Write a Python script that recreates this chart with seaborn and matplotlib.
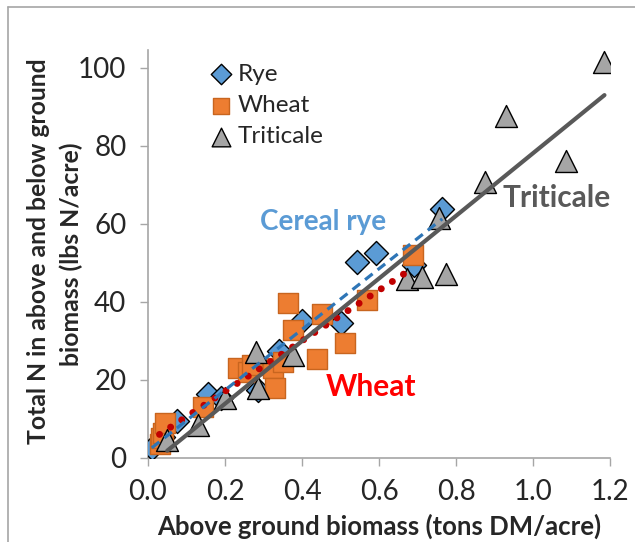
"""Total N vs above ground biomass for three cereal cover crops."""

import matplotlib.pyplot as plt
import pandas as pd
import seaborn as sns
from matplotlib.lines import Line2D

# values
rye_biomass = [0.01, 0.04, 0.075, 0.155, 0.19, 0.285, 0.34, 0.40, 0.50, 0.542, 0.592, 0.69, 0.764]
rye_n = [2.5, 5.5, 9.5, 16.5, 15.5, 17.5, 27.5, 35.0, 34.7, 50.3, 52.6, 49.5, 63.8]

wheat_biomass = [0.03, 0.035, 0.04, 0.045, 0.143, 0.235, 0.26, 0.27, 0.325, 0.33, 0.35,
                 0.364, 0.377, 0.44, 0.452, 0.512, 0.569, 0.689]
wheat_n = [3.5, 5.0, 6.5, 9.0, 13.0, 23.0, 22.0, 23.8, 23.0, 18.0, 24.6,
           39.7, 32.8, 25.3, 37.0, 29.5, 40.5, 52.0]

triticale_biomass = [0.05, 0.13, 0.20, 0.28, 0.285, 0.377, 0.673, 0.712, 0.774, 0.756,
                     0.875, 0.93, 1.086, 1.185]
triticale_n = [4.5, 8.5, 15.5, 27.2, 18.0, 26.5, 46.0, 46.5, 47.2, 61.5,
               70.8, 87.7, 76.0, 101.5]

x_ticks = [0.0, 0.2, 0.4, 0.6, 0.8, 1.0, 1.2]
y_ticks = [0, 20, 40, 60, 80, 100]


def main() -> None:
    sns.set_style("white")
    plt.rcParams["font.family"] = ["Lato", "DejaVu Sans"]

    df = pd.concat(
        [
            pd.DataFrame({"biomass": rye_biomass, "n": rye_n, "crop": "Rye"}),
            pd.DataFrame({"biomass": wheat_biomass, "n": wheat_n, "crop": "Wheat"}),
            pd.DataFrame({"biomass": triticale_biomass, "n": triticale_n, "crop": "Triticale"}),
        ],
        ignore_index=True,
    )

    fig = plt.figure(figsize=(6.35, 5.42), dpi=100)
    ax = fig.add_axes([0.233, 0.155, 0.728, 0.753])

    styles = {
        "Rye": dict(marker="D", color="#5B9BD5", edgecolor="black", s=150),
        "Wheat": dict(marker="s", color="#ED7D31", edgecolor="#C8651F", s=190),
        "Triticale": dict(marker="^", color="#A5A5A5", edgecolor="black", s=250),
    }
    for crop, st in styles.items():
        sub = df[df["crop"] == crop]
        sns.scatterplot(
            data=sub, x="biomass", y="n", ax=ax, label=crop,
            marker=st["marker"], color=st["color"], edgecolor=st["edgecolor"],
            s=st["s"], linewidth=1.0, zorder=3,
        )

    # linear trendlines
    sns.regplot(
        data=df[df["crop"] == "Wheat"], x="biomass", y="n", ax=ax, scatter=False, ci=None,
        line_kws=dict(color="#C00000", lw=5, linestyle=(0, (0.01, 1.9)),
                      dash_capstyle="round", zorder=4),
    )
    sns.regplot(
        data=df[df["crop"] == "Rye"], x="biomass", y="n", ax=ax, scatter=False, ci=None,
        line_kws=dict(color="#2E75B6", lw=2.3, linestyle=(0, (3, 2)), zorder=4),
    )
    sns.regplot(
        data=df[df["crop"] == "Triticale"], x="biomass", y="n", ax=ax, scatter=False, ci=None,
        line_kws=dict(color="#595959", lw=3.0, zorder=5),
    )

    ax.set_xlim(0, 1.2)
    ax.set_ylim(0, 104.6)
    ax.set_xticks(x_ticks)
    ax.set_xticklabels([f"{t:.1f}" for t in x_ticks])
    ax.set_yticks(y_ticks)
    ax.tick_params(axis="both", labelsize=20, length=6, width=1, color="#A6A6A6",
                   direction="out", bottom=True, left=True)
    ax.tick_params(axis="x", pad=9)
    ax.tick_params(axis="y", pad=9.5)
    for side in ["top", "right"]:
        ax.spines[side].set_visible(False)
    for side in ["left", "bottom"]:
        ax.spines[side].set_color("#A6A6A6")
        ax.spines[side].set_linewidth(1.2)

    ax.set_xlabel("Above ground biomass (tons DM/acre)", fontsize=18.5, fontweight="bold")
    ax.xaxis.set_label_coords(0.5, -0.168)
    ax.xaxis.label.set_va("center")

    # y label as two centred lines
    ax.set_ylabel("")
    fig.text(0.060, 0.537, "Total N in above and below ground", rotation=90,
             fontsize=17.8, fontweight="bold", ha="center", va="center")
    fig.text(0.113, 0.530, "biomass (lbs N/acre)", rotation=90,
             fontsize=17.8, fontweight="bold", ha="center", va="center")

    ax.text(0.455, 60.5, "Cereal rye", color="#5B9BD5", fontsize=20, fontweight="bold",
            ha="center", va="center")
    ax.text(0.579, 18.2, "Wheat", color="#FF0000", fontsize=21.5, fontweight="bold",
            ha="center", va="center")
    ax.text(1.062, 66.7, "Triticale", color="#595959", fontsize=21.5, fontweight="bold",
            ha="center", va="center")

    ax.legend(loc="upper left", bbox_to_anchor=(0.115, 0.99), frameon=False, fontsize=17.5,
              handlelength=0.8, handletextpad=0.3, labelspacing=0.42, markerscale=0.85,
              borderaxespad=0)

    # chart area border (top and left edges visible)
    fig.add_artist(Line2D([0.013, 1.0], [0.987, 0.987], color="#A6A6A6", lw=1.2))
    fig.add_artist(Line2D([0.013, 0.013], [0.0, 0.987], color="#A6A6A6", lw=1.2))

    fig.savefig("out.png", dpi=100)
    plt.close(fig)


if __name__ == "__main__":
    main()
